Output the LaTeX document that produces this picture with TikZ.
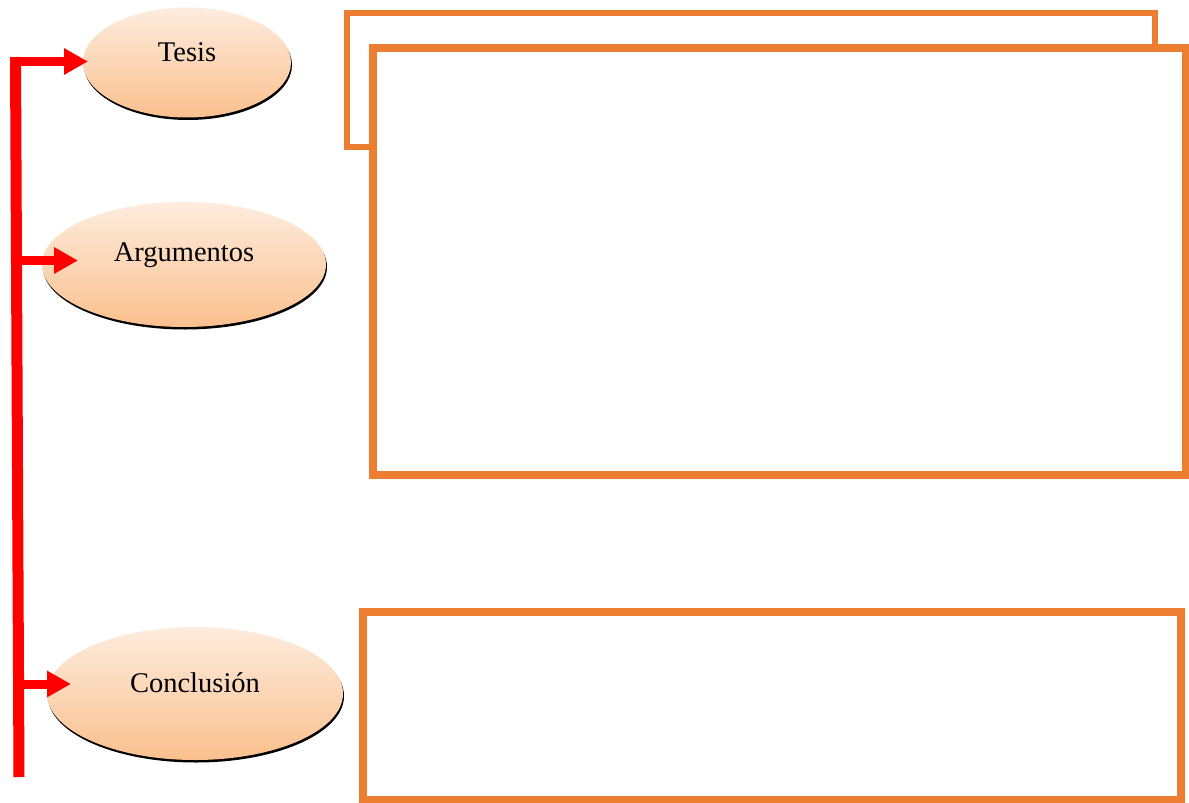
\documentclass[tikz,border=0pt]{standalone}
\usepackage{fontspec}
\setmainfont{Liberation Serif}
\usetikzlibrary{arrows.meta,shapes.geometric,shadows}
\definecolor{boxorange}{RGB}{237,125,49}
\definecolor{peachtop}{RGB}{253,236,222}
\definecolor{peachbot}{RGB}{250,192,142}
\tikzset{
  oval/.style={ellipse, inner sep=0pt, top color=peachtop, bottom color=peachbot,
    drop shadow={shadow xshift=1pt, shadow yshift=-2.5pt, fill=black, opacity=1}},
  ovaltext/.style={font=\fontsize{28.5}{34}\selectfont, inner sep=0pt},
  panel/.style={draw=boxorange, fill=white, inner sep=0pt},
  spine/.style={draw=red, line width=11pt},
  redarrow/.style={draw=red, line width=9pt, -{Triangle[length=24pt,width=25pt]}}
}
\begin{document}
\begin{tikzpicture}[x=1pt,y=1pt]
\useasboundingbox (0,0) rectangle (1189,-803);
% panels
\node[panel, line width=6pt, minimum width=808pt, minimum height=134pt] (back) at (750.5,-80) {};
\node[panel, line width=8pt, minimum width=812.5pt, minimum height=427pt] (front) at (779.25,-261.5) {};
\node[panel, line width=8pt, minimum width=818pt, minimum height=188pt] (concbox) at (772,-706) {};
% ovals
\node[oval, minimum width=208pt, minimum height=110pt] (tesis) at (187,-62.5) {};
\node[ovaltext] (tesist) at (187,-52) {Tesis};
\node[oval, minimum width=284pt, minimum height=125pt] (arg) at (184,-264.5) {};
\node[ovaltext] (argt) at (184,-255) {Argumentos};
\node[oval, minimum width=296pt, minimum height=133pt] (conc) at (195,-693.5) {};
\node[ovaltext] (conct) at (195,-683) {Conclusión};
% connectors
\coordinate (top) at (15.5,-57);
\coordinate (bot) at (19,-777);
\coordinate (s1) at (10,-61.5);
\coordinate (t1) at (88,-61.5);
\coordinate (s2) at (18,-260.5);
\coordinate (t2) at (78,-260.5);
\coordinate (s3) at (19,-684);
\coordinate (t3) at (71,-684);
\draw[spine] (top) -- (bot);
\draw[redarrow] (s1) -- (t1);
\draw[redarrow] (s2) -- (t2);
\draw[redarrow] (s3) -- (t3);
\end{tikzpicture}
\end{document}
